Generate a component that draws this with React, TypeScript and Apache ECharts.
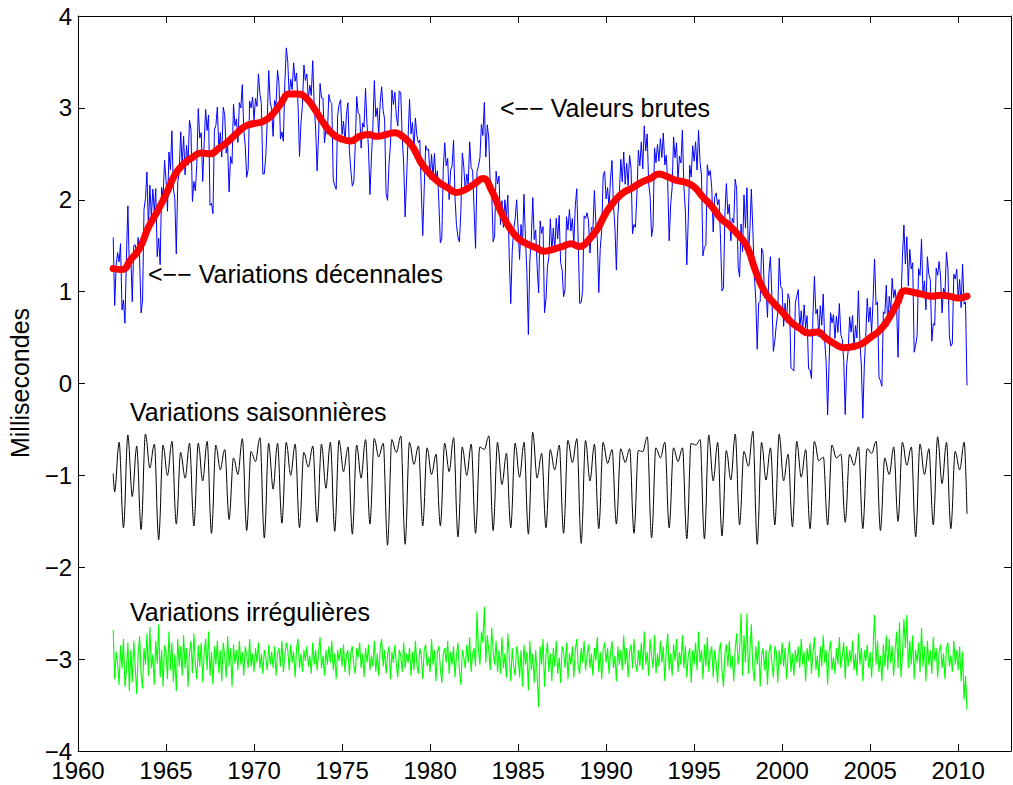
import React, { useEffect, useRef } from "react";
import * as echarts from "echarts";

// ---- data ----
const START_YEAR = 1962; // first monthly sample
const MONTHS_PER_YEAR = 12;
const X_MIN = 1960;
const X_MAX = 2013;
const X_STEP = 5;
const Y_MIN = -4;
const Y_MAX = 4;
const SEASONAL_OFFSET = -1; // seasonal curve drawn around -1
const IRREGULAR_OFFSET = -3; // irregular curve drawn around -3

// Decadal variations (ms), every half year from 1962.0 to 2010.5
const DECADAL_STEP = 0.5;
const DECADAL = [
  1.25, 1.24, 1.35, 1.47, 1.7, 1.87, 2.06, 2.27, 2.39, 2.46,
  2.51, 2.5, 2.56, 2.63, 2.72, 2.8, 2.83, 2.85, 2.92, 3.04,
  3.15, 3.15, 3.1, 2.97, 2.82, 2.71, 2.66, 2.64, 2.69, 2.71,
  2.69, 2.71, 2.73, 2.68, 2.58, 2.4, 2.28, 2.19, 2.13, 2.08,
  2.11, 2.17, 2.23, 2.1, 1.88, 1.7, 1.58, 1.52, 1.48, 1.44,
  1.46, 1.49, 1.52, 1.49, 1.56, 1.68, 1.86, 1.99, 2.08, 2.13,
  2.19, 2.23, 2.28, 2.25, 2.21, 2.19, 2.14, 2.03, 1.93, 1.8,
  1.72, 1.62, 1.49, 1.22, 1.0, 0.88, 0.78, 0.67, 0.6, 0.55,
  0.56, 0.49, 0.43, 0.39, 0.4, 0.43, 0.5, 0.57, 0.69, 0.86,
  1.01, 0.99, 0.97, 0.95, 0.96, 0.95, 0.93, 0.95,
];

// Seasonal variations as drawn (hundredths of ms), one row per year, monthly
const SEASONAL_ROWS = [
  [-98, -118, -104, -77, -64, -87, -134, -157, -132, -81, -56, -73],
  [-106, -123, -109, -82, -68, -91, -136, -159, -133, -81, -55, -64],
  [-83, -92, -85, -72, -66, -92, -144, -170, -144, -93, -67, -75],
  [-92, -100, -91, -72, -63, -86, -131, -153, -134, -95, -75, -82],
  [-96, -103, -94, -75, -65, -88, -133, -155, -133, -88, -65, -75],
  [-96, -106, -95, -74, -63, -88, -138, -163, -139, -91, -67, -74],
  [-87, -94, -88, -77, -72, -91, -129, -148, -131, -98, -81, -85],
  [-94, -99, -89, -70, -60, -85, -135, -160, -138, -96, -74, -77],
  [-82, -85, -78, -65, -59, -86, -141, -168, -142, -91, -65, -78],
  [-102, -115, -102, -77, -65, -87, -130, -152, -130, -86, -64, -73],
  [-91, -100, -91, -74, -66, -89, -134, -157, -136, -95, -75, -79],
  [-87, -91, -85, -74, -68, -89, -130, -151, -130, -87, -66, -78],
  [-102, -114, -101, -76, -64, -88, -137, -161, -136, -87, -62, -70],
  [-87, -96, -89, -76, -69, -93, -140, -164, -140, -91, -67, -76],
  [-94, -103, -92, -71, -61, -84, -130, -153, -130, -83, -60, -65],
  [-75, -80, -76, -69, -65, -93, -148, -176, -147, -90, -61, -65],
  [-72, -75, -71, -62, -57, -87, -146, -175, -147, -92, -64, -70],
  [-82, -88, -83, -73, -68, -90, -133, -155, -134, -91, -70, -77],
  [-92, -99, -94, -83, -77, -97, -136, -155, -133, -88, -65, -73],
  [-88, -96, -87, -68, -59, -86, -140, -167, -143, -94, -69, -77],
  [-92, -100, -92, -75, -66, -90, -139, -163, -140, -93, -69, -70],
  [-71, -72, -68, -61, -57, -83, -134, -160, -136, -88, -64, -76],
  [-99, -110, -102, -85, -76, -96, -137, -157, -134, -88, -65, -74],
  [-93, -102, -93, -74, -64, -89, -139, -164, -136, -81, -53, -66],
  [-91, -103, -96, -83, -76, -96, -137, -157, -136, -93, -72, -78],
  [-89, -94, -87, -74, -67, -91, -139, -163, -138, -87, -62, -68],
  [-80, -86, -80, -67, -60, -89, -146, -174, -146, -90, -62, -73],
  [-95, -106, -96, -76, -66, -89, -135, -158, -135, -88, -64, -70],
  [-81, -87, -83, -76, -72, -92, -133, -153, -133, -92, -71, -75],
  [-82, -86, -82, -75, -71, -94, -140, -163, -141, -96, -73, -73],
  [-74, -74, -70, -62, -58, -86, -141, -168, -144, -95, -70, -73],
  [-78, -81, -77, -68, -64, -87, -134, -157, -135, -92, -70, -74],
  [-81, -85, -81, -74, -70, -95, -144, -169, -143, -91, -65, -66],
  [-66, -67, -66, -63, -61, -88, -142, -169, -141, -84, -56, -69],
  [-94, -106, -96, -75, -64, -90, -141, -166, -143, -96, -73, -81],
  [-97, -105, -93, -68, -55, -80, -129, -154, -134, -94, -74, -78],
  [-86, -90, -81, -62, -52, -83, -144, -175, -147, -92, -64, -74],
  [-95, -105, -96, -79, -70, -91, -133, -154, -129, -80, -55, -68],
  [-93, -106, -99, -84, -77, -97, -136, -156, -133, -86, -63, -73],
  [-92, -102, -95, -80, -72, -94, -137, -158, -134, -87, -63, -68],
  [-79, -84, -83, -81, -80, -99, -136, -154, -132, -89, -67, -71],
  [-78, -81, -80, -78, -77, -96, -133, -151, -133, -96, -77, -80],
  [-86, -89, -84, -74, -69, -91, -136, -158, -136, -93, -71, -72],
  [-75, -76, -73, -66, -63, -87, -136, -160, -140, -101, -81, -86],
  [-95, -99, -92, -77, -69, -89, -130, -150, -129, -86, -64, -70],
  [-83, -89, -84, -74, -69, -94, -143, -167, -142, -91, -66, -74],
  [-91, -99, -92, -78, -71, -92, -133, -154, -130, -82, -58, -71],
  [-96, -109, -98, -75, -64, -88, -135, -158, -137, -95, -74, -79],
  [-89, -94, -87, -72, -64, -88, -142],
];

// Irregular variations (hundredths of ms around the -3 baseline), monthly
const IRREGULAR_ROWS = [
  [32, -22, 8, -5, -28, 15, -10, 22, -30, -12, 18, -35],
  [10, -25, 20, -8, -38, 5, 25, -15, -32, 12, -6, 28],
  [-18, 35, -10, 5, -28, 20, -5, 38, -20, 10, -30, 15],
  [8, -22, 30, -12, 18, -25, 5, -35, 22, -8, 14, -18],
  [26, -10, 12, -30, 8, 20, -15, 28, -5, -22, 15, -8],
  [18, -25, 6, 22, -12, 30, -18, 8, -28, 14, -6, 20],
  [-15, 10, -24, 18, 4, -20, 25, -8, 12, -30, 16, -5],
  [10, -12, 20, -6, 8, -18, 14, 4, -10, 22, -8, 6],
  [-14, 12, -4, 18, -10, 6, -16, 10, 2, -12, 16, -6],
  [8, -10, 14, -18, 6, 12, -8, 20, -14, 4, 18, 10],
  [-12, 16, -4, 8, -20, 12, 22, -10, 6, -14, 10, -2],
  [14, -8, 4, -16, 18, -6, 10, -12, 8, 24, -10, 4],
  [-18, 10, -6, 14, -4, 20, -12, 6, -22, 10, -2, 12],
  [-8, 16, -14, 4, 10, -18, 8, 14, -6, -16, 12, 2],
  [18, -10, 6, -20, 12, -4, 16, -12, 4, -8, 20, -14],
  [6, -18, 12, 22, -8, 10, -16, 4, 14, -22, 8, -4],
  [16, -6, -20, 10, 4, -14, 18, -10, 6, -4, 12, -18],
  [8, -12, 20, -6, -16, 12, 4, -22, 10, 16, -8, 2],
  [-14, 22, -6, 10, -24, 8, 14, -10, -26, 6, 12, -4],
  [20, -16, 8, -6, 14, -20, 4, 18, -12, -28, 10, 2],
  [-10, 16, -4, 24, -14, 6, 12, -8, 52, 10, -6, 30],
  [18, 57, -4, 26, 10, -12, 34, 8, -6, 20, -14, 10],
  [-16, 24, -10, 6, -20, 28, 2, -24, 12, -8, -18, 14],
  [4, -20, 10, -30, 16, -6, 8, -34, 20, -12, 6, -26],
  [10, -18, -52, 14, -6, 22, -30, 4, 18, -14, 6, -24],
  [12, -8, 20, -16, 2, -26, 14, 8, -10, 18, -22, 6],
  [-6, 14, -20, 10, 22, -8, -16, 12, -4, 20, -12, 4],
  [16, -10, 6, -18, 12, -2, 24, -14, 8, -22, 10, 18],
  [-4, 12, -16, 6, 20, -10, 4, -24, 14, -6, 10, -12],
  [26, -6, 12, -20, 8, 16, -10, 22, -4, -14, 10, -8],
  [18, -12, 30, -6, 8, -18, 22, 4, -10, 26, -16, 6],
  [-8, 20, -4, 14, -24, 10, 28, -12, 6, -18, 16, -2],
  [22, -14, 8, -6, 26, -10, 14, -20, 4, 12, -26, 10],
  [-6, 18, -12, 30, -4, 10, -22, 16, -8, 24, -14, 6],
  [14, -20, 10, -4, -26, 8, 18, -12, -30, 6, 16, -8],
  [20, -10, 4, -24, 12, 28, -6, 10, 50, -18, 26, -4],
  [50, -16, 8, 38, -10, -24, 14, -6, 20, -30, 4, 12],
  [-12, 10, -28, 6, 16, -4, -20, 14, 8, -26, 10, -6],
  [18, -8, 12, -22, 4, 20, -14, 6, -18, 10, -4, 14],
  [-10, 22, -6, 8, -24, 12, -2, 18, -16, 6, 24, -12],
  [4, -20, 14, -8, 26, -4, 10, -28, 8, 20, -12, 2],
  [-16, 12, -6, 24, -10, 4, 18, -22, 14, -8, 10, -4],
  [20, -12, 6, -18, 28, -6, 12, -24, 10, -2, 16, -10],
  [8, -20, 12, 48, -6, 20, -14, 4, -24, 16, -8, 26],
  [-12, 22, -4, 14, -18, 8, 30, -10, 40, -20, 6, 44],
  [12, 48, -10, 20, -6, 26, -22, 10, -4, 18, -14, 34],
  [-8, 14, -24, 20, -6, 10, -16, 24, -2, 12, -20, 8],
  [16, -10, 6, -22, 12, 18, -8, 4, -14, 20, -6, 10],
  [-12, 14, -24, 8, -44, -18, -55],
];

const Y_TITLE = "Millisecondes";
const LABEL_RAW = "<−− Valeurs brutes";
const LABEL_DECADAL = "<−− Variations décennales";
const LABEL_SEASONAL = "Variations saisonnières";
const LABEL_IRREGULAR = "Variations irrégulières";

const FONT = '"Liberation Sans", Arial, Helvetica, sans-serif';
const FS = 25; // annotation / title text
const FS_TICK = 24; // tick labels

export default function App() {
  const ref = useRef<HTMLDivElement>(null);

  useEffect(() => {
    if (!ref.current) return;
    const chart = echarts.init(ref.current, null, { renderer: "svg" });

    const tOf = (i: number) => START_YEAR + i / MONTHS_PER_YEAR;
    const seasonal = SEASONAL_ROWS.flat().map((v) => v / 100);
    const irregular = IRREGULAR_ROWS.flat().map((v) => IRREGULAR_OFFSET + v / 100);
    const decadalAt = (year: number) => {
      const p = (year - START_YEAR) / DECADAL_STEP;
      const lo = Math.max(0, Math.min(Math.floor(p), DECADAL.length - 2));
      const f = Math.min(1, Math.max(0, p - lo));
      return DECADAL[lo] * (1 - f) + DECADAL[lo + 1] * f;
    };
    // raw values = decadal + seasonal + irregular components
    const raw = seasonal.map(
      (s, i) =>
        decadalAt(tOf(i)) + (s - SEASONAL_OFFSET) + (irregular[i] - IRREGULAR_OFFSET)
    );

    const rawData = raw.map((v, i) => [tOf(i), v]);
    const decData = DECADAL.map((v, i) => [START_YEAR + i * DECADAL_STEP, v]);
    const seaData = seasonal.map((v, i) => [tOf(i), v]);
    const irrData = irregular.map((v, i) => [tOf(i), v]);

    const axisCommon = {
      axisLine: { show: true, onZero: false, lineStyle: { color: "#000", width: 1 } },
      axisTick: { show: true, inside: true, length: 7, lineStyle: { color: "#000", width: 1 } },
      splitLine: { show: false },
    };
    const fmtY = (v: number) => (v < 0 ? "−" + Math.abs(v) : String(v));
    const fmtX = (v: number) => String(Math.round(v));

    chart.setOption({
      animation: false,
      backgroundColor: "#ffffff",
      textStyle: { fontFamily: FONT },
      grid: { left: 78, top: 16, right: 2, bottom: 34, containLabel: false },
      xAxis: [
        {
          type: "value",
          min: X_MIN,
          max: X_MAX,
          interval: X_STEP,
          position: "bottom",
          ...axisCommon,
          axisLabel: {
            color: "#000",
            fontSize: FS_TICK,
            fontFamily: FONT,
            margin: 11,
            lineHeight: 16,
            showMaxLabel: false,
            formatter: fmtX,
          },
        },
        {
          type: "value",
          min: X_MIN,
          max: X_MAX,
          interval: X_STEP,
          position: "top",
          ...axisCommon,
          axisLabel: { show: false },
        },
      ],
      yAxis: [
        {
          type: "value",
          min: Y_MIN,
          max: Y_MAX,
          interval: 1,
          position: "left",
          ...axisCommon,
          axisLabel: {
            color: "#000",
            fontSize: FS_TICK,
            fontFamily: FONT,
            margin: 6,
            lineHeight: 16,
            formatter: fmtY,
          },
        },
        {
          type: "value",
          min: Y_MIN,
          max: Y_MAX,
          interval: 1,
          position: "right",
          ...axisCommon,
          axisLabel: { show: false },
        },
      ],
      series: [
        {
          name: "Valeurs brutes",
          type: "line",
          data: rawData,
          showSymbol: false,
          symbol: "none",
          lineStyle: { color: "#0000ff", width: 1 },
          z: 2,
        },
        {
          name: "Variations décennales",
          type: "line",
          data: decData,
          showSymbol: false,
          symbol: "none",
          smooth: 0.5,
          lineStyle: { color: "#ff0000", width: 7, cap: "round", join: "round" },
          z: 3,
        },
        {
          name: "Variations saisonnières",
          type: "line",
          data: seaData,
          showSymbol: false,
          symbol: "none",
          smooth: 0.35,
          lineStyle: { color: "#000000", width: 1 },
          z: 2,
        },
        {
          name: "Variations irrégulières",
          type: "line",
          data: irrData,
          showSymbol: false,
          symbol: "none",
          lineStyle: { color: "#00ff00", width: 1.1 },
          z: 2,
        },
      ],
      graphic: [
        {
          type: "text",
          x: 20,
          y: 383,
          rotation: Math.PI / 2,
          style: { text: Y_TITLE, fontSize: FS, fontFamily: FONT, fill: "#000", align: "center", verticalAlign: "middle" },
        },
        {
          type: "text",
          x: 500,
          y: 108,
          style: { text: LABEL_RAW, fontSize: FS, fontFamily: FONT, fill: "#000", align: "left", verticalAlign: "middle" },
        },
        {
          type: "text",
          x: 148,
          y: 274,
          style: { text: LABEL_DECADAL, fontSize: FS, fontFamily: FONT, fill: "#000", align: "left", verticalAlign: "middle" },
        },
        {
          type: "text",
          x: 130,
          y: 412,
          style: { text: LABEL_SEASONAL, fontSize: FS, fontFamily: FONT, fill: "#000", align: "left", verticalAlign: "middle" },
        },
        {
          type: "text",
          x: 130,
          y: 612,
          style: { text: LABEL_IRREGULAR, fontSize: FS, fontFamily: FONT, fill: "#000", align: "left", verticalAlign: "middle" },
        },
      ],
    });

    return () => chart.dispose();
  }, []);

  return (
    <div
      ref={ref}
      style={{ position: "absolute", left: 0, top: 0, width: 1013, height: 785, background: "#fff" }}
    />
  );
}
